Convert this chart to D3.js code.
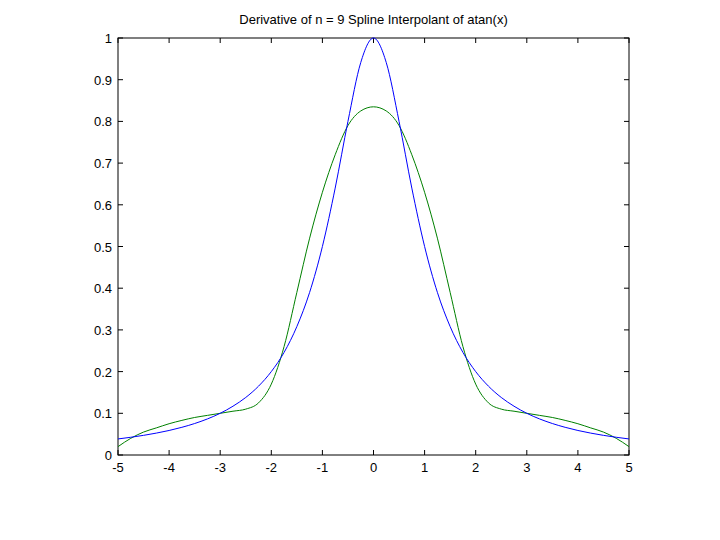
<!DOCTYPE html>
<html><head><meta charset="utf-8">
<script src="https://cdn.jsdelivr.net/npm/d3@7"></script>
<style>body{margin:0;background:#fff}text{font-family:Arial,"Liberation Sans",sans-serif}</style>
</head><body><svg id="c" width="720" height="540"></svg>
<script>
const xs = [-5,-4.75,-4.5,-4.25,-4,-3.75,-3.5,-3.25,-3,-2.75,-2.5,-2.25,-2,-1.75,-1.5,-1.25,-1,-0.75,-0.5,-0.25,0,0.25,0.5,0.75,1,1.25,1.5,1.75,2,2.25,2.5,2.75,3,3.25,3.5,3.75,4,4.25,4.5,4.75,5];
const blueVals = [0.0385,0.0425,0.0471,0.0525,0.0588,0.0664,0.0755,0.0865,0.1,0.117,0.138,0.165,0.2,0.246,0.308,0.39,0.5,0.64,0.8,0.941,1,0.941,0.8,0.64,0.5,0.39,0.308,0.246,0.2,0.165,0.138,0.117,0.1,0.0865,0.0755,0.0664,0.0588,0.0525,0.0471,0.0425,0.0385];
const greenVals = [0.02,0.04,0.055,0.065,0.075,0.083,0.09,0.095,0.1,0.105,0.11,0.125,0.17,0.26,0.39,0.52,0.63,0.72,0.79,0.825,0.835,0.825,0.79,0.72,0.63,0.52,0.39,0.26,0.17,0.125,0.11,0.105,0.1,0.095,0.09,0.083,0.075,0.065,0.055,0.04,0.02];
const xTicks = [-5,-4,-3,-2,-1,0,1,2,3,4,5];
const yTicks = [0,0.1,0.2,0.3,0.4,0.5,0.6,0.7,0.8,0.9,1];
const title = "Derivative of n =  9 Spline Interpolant of atan(x)";

const L=118,R=629,T=38,B=455;
const svg=d3.select("#c");
const x=d3.scaleLinear().domain([-5,5]).range([L,R]);
const y=d3.scaleLinear().domain([0,1]).range([B,T]);
svg.append("rect").attr("x",L).attr("y",T).attr("width",R-L).attr("height",B-T).attr("fill","none").attr("stroke","#000");
const g=svg.append("g");
xTicks.forEach(t=>{
  g.append("line").attr("x1",x(t)).attr("x2",x(t)).attr("y1",B).attr("y2",B-5).attr("stroke","#000");
  g.append("line").attr("x1",x(t)).attr("x2",x(t)).attr("y1",T).attr("y2",T+5).attr("stroke","#000");
  g.append("text").attr("x",x(t)).attr("y",B+17).attr("text-anchor","middle").attr("font-size",13).text(t);
});
yTicks.forEach(t=>{
  g.append("line").attr("x1",L).attr("x2",L+5).attr("y1",y(t)).attr("y2",y(t)).attr("stroke","#000");
  g.append("line").attr("x1",R).attr("x2",R-5).attr("y1",y(t)).attr("y2",y(t)).attr("stroke","#000");
  g.append("text").attr("x",L-6).attr("y",y(t)+5).attr("text-anchor","end").attr("font-size",13).text(t);
});
const line=d3.line().x((d,i)=>x(xs[i])).y(d=>y(d)).curve(d3.curveMonotoneX);
svg.append("path").attr("d",line(greenVals)).attr("fill","none").attr("stroke","#008000");
svg.append("path").attr("d",line(blueVals)).attr("fill","none").attr("stroke","#0000ff");
svg.append("text").attr("x",(L+R)/2).attr("y",24).attr("text-anchor","middle").attr("font-size",13).text(title);
</script></body></html>
